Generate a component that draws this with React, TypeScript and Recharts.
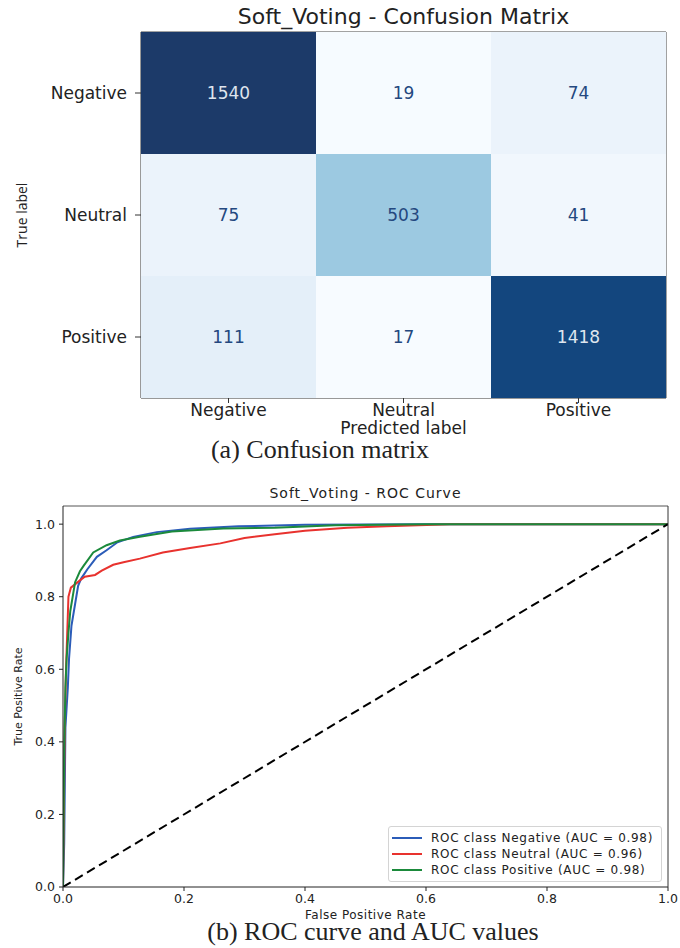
import React from 'react';
import { Label, Legend, Line, LineChart, Scatter, ScatterChart, XAxis, YAxis } from 'recharts';

const classNames = ['Negative', 'Neutral', 'Positive'];

// confusion matrix rows = true label, columns = predicted label
const negativeRow = [1540, 19, 74];
const neutralRow = [75, 503, 41];
const positiveRow = [111, 17, 1418];

const aucScores = [0.98, 0.96, 0.98];
const rocTicks = [0, 0.2, 0.4, 0.6, 0.8, 1.0];

const negativeRoc = [
  { fpr: 0, tpr: 0 }, { fpr: 0.002, tpr: 0.12 }, { fpr: 0.004, tpr: 0.44 }, { fpr: 0.008, tpr: 0.55 },
  { fpr: 0.01, tpr: 0.63 }, { fpr: 0.014, tpr: 0.72 }, { fpr: 0.02, tpr: 0.78 }, { fpr: 0.025, tpr: 0.83 },
  { fpr: 0.03, tpr: 0.85 }, { fpr: 0.04, tpr: 0.875 }, { fpr: 0.056, tpr: 0.91 }, { fpr: 0.072, tpr: 0.928 },
  { fpr: 0.09, tpr: 0.95 }, { fpr: 0.116, tpr: 0.965 }, { fpr: 0.155, tpr: 0.978 }, { fpr: 0.21, tpr: 0.987 },
  { fpr: 0.29, tpr: 0.994 }, { fpr: 0.4, tpr: 0.998 }, { fpr: 0.6, tpr: 1.0 }, { fpr: 1, tpr: 1 },
];

const neutralRoc = [
  { fpr: 0, tpr: 0 }, { fpr: 0.003, tpr: 0.45 }, { fpr: 0.005, tpr: 0.6 }, { fpr: 0.007, tpr: 0.7 },
  { fpr: 0.009, tpr: 0.8 }, { fpr: 0.013, tpr: 0.825 }, { fpr: 0.028, tpr: 0.845 }, { fpr: 0.036, tpr: 0.855 },
  { fpr: 0.053, tpr: 0.86 }, { fpr: 0.064, tpr: 0.872 }, { fpr: 0.083, tpr: 0.888 }, { fpr: 0.1, tpr: 0.895 },
  { fpr: 0.127, tpr: 0.905 }, { fpr: 0.165, tpr: 0.922 }, { fpr: 0.21, tpr: 0.934 }, { fpr: 0.26, tpr: 0.947 },
  { fpr: 0.3, tpr: 0.962 }, { fpr: 0.35, tpr: 0.972 }, { fpr: 0.4, tpr: 0.982 }, { fpr: 0.47, tpr: 0.99 },
  { fpr: 0.535, tpr: 0.994 }, { fpr: 0.64, tpr: 1.0 }, { fpr: 1, tpr: 1 },
];

const positiveRoc = [
  { fpr: 0, tpr: 0 }, { fpr: 0.002, tpr: 0.38 }, { fpr: 0.004, tpr: 0.55 }, { fpr: 0.006, tpr: 0.63 },
  { fpr: 0.009, tpr: 0.7 }, { fpr: 0.012, tpr: 0.76 }, { fpr: 0.02, tpr: 0.84 }, { fpr: 0.028, tpr: 0.87 },
  { fpr: 0.034, tpr: 0.885 }, { fpr: 0.05, tpr: 0.922 }, { fpr: 0.072, tpr: 0.942 }, { fpr: 0.094, tpr: 0.955 },
  { fpr: 0.127, tpr: 0.965 }, { fpr: 0.18, tpr: 0.98 }, { fpr: 0.265, tpr: 0.988 }, { fpr: 0.35, tpr: 0.99 },
  { fpr: 0.45, tpr: 0.997 }, { fpr: 0.6, tpr: 1.0 }, { fpr: 1, tpr: 1 },
];

const chanceLine = [{ fpr: 0, tpr: 0 }, { fpr: 1, tpr: 1 }];

const rocSeries = [
  { name: classNames[0], auc: aucScores[0], data: negativeRoc, color: '#2b5cb8' },
  { name: classNames[1], auc: aucScores[1], data: neutralRoc, color: '#e8322e' },
  { name: classNames[2], auc: aucScores[2], data: positiveRoc, color: '#1b8a3b' },
];

const SANS = '"DejaVu Sans", sans-serif';
const SERIF = '"Liberation Serif", "Times New Roman", serif';

// matplotlib "Blues", last stop toned down a bit to match the scan
const BLUES = ['#f7fbff', '#deebf7', '#c6dbef', '#9ecae1', '#6baed6', '#4292c6', '#2171b5', '#0b4f8f', '#1c3a69'];

const hexToRgb = (h: string) => [1, 3, 5].map(i => parseInt(h.slice(i, i + 2), 16));

const blues = (t: number) => {
  const p = Math.max(0, Math.min(1, t)) * (BLUES.length - 1);
  const i = Math.min(BLUES.length - 2, Math.floor(p));
  const f = p - i;
  const a = hexToRgb(BLUES[i]);
  const b = hexToRgb(BLUES[i + 1]);
  const c = a.map((v, k) => Math.round(v + (b[k] - v) * f));
  return `rgb(${c[0]},${c[1]},${c[2]})`;
};

const matrix = [negativeRow, neutralRow, positiveRow];
const allCounts = matrix.flat();
const minCount = Math.min(...allCounts);
const maxCount = Math.max(...allCounts);
const cellData = matrix.flatMap((row, r) => row.map((count, c) => ({ col: c, row: r, count })));

const CM_W = 680;
const CM_H = 470;
const CM_MARGIN = { top: 31, right: 13, bottom: 0, left: 21 };
const CM_YAXIS_W = 120;
const CM_XAXIS_H = 72;
const cellW = (CM_W - CM_MARGIN.left - CM_MARGIN.right - CM_YAXIS_W - 1) / 3;
const cellH = (CM_H - CM_MARGIN.top - CM_MARGIN.bottom - CM_XAXIS_H - 1) / 3;

const HeatCell = (props: any) => {
  const { cx, cy, payload } = props;
  const t = Math.pow((payload.count - minCount) / (maxCount - minCount), 0.85);
  const dark = payload.count > (minCount + maxCount) / 2;
  return (
    <g>
      <rect x={cx - cellW / 2} y={cy - cellH / 2} width={cellW} height={cellH} fill={blues(t)} />
      <text
        x={cx}
        y={cy}
        textAnchor="middle"
        dominantBaseline="central"
        fontFamily={SANS}
        fontSize={17}
        fill={dark ? '#dfe5ee' : '#24487f'}
      >
        {payload.count}
      </text>
    </g>
  );
};

const XTitle = ({ viewBox, value, dy, fontSize, letterSpacing }: any) => (
  <text
    x={viewBox.x + viewBox.width / 2}
    y={viewBox.y + dy}
    textAnchor="middle"
    fontFamily={SANS}
    fontSize={fontSize}
    letterSpacing={letterSpacing}
    fill="#222"
  >
    {value}
  </text>
);

const YTitle = ({ viewBox, value, dx, fontSize, fontFamily }: any) => {
  const x = viewBox.x + dx;
  const y = viewBox.y + viewBox.height / 2;
  return (
    <text
      x={x}
      y={y}
      transform={`rotate(-90 ${x} ${y})`}
      textAnchor="middle"
      dominantBaseline="central"
      fontFamily={fontFamily}
      fontSize={fontSize}
      fill="#222"
    >
      {value}
    </text>
  );
};

const RocLegend = ({ payload }: any) => (
  <div
    style={{
      border: '1px solid #d4d4d4',
      borderRadius: 3,
      background: '#fff',
      padding: '3px 6px 3px 3px',
      fontFamily: SANS,
      fontSize: 12,
      letterSpacing: 0.7,
      color: '#222',
    }}
  >
    {(payload || [])
      .filter((p: any) => p.type !== 'none')
      .map((p: any) => (
        <div key={p.value} style={{ display: 'flex', alignItems: 'center', height: 16, whiteSpace: 'nowrap' }}>
          <span style={{ display: 'inline-block', width: 30, height: 2, background: p.color, marginRight: 9 }} />
          {p.value}
        </div>
      ))}
  </div>
);

const axisTick = (size: number) => ({ fontSize: size, fill: '#222', fontFamily: SANS });

export default function App() {
  return (
    <div style={{ position: 'absolute', left: 0, top: 0, width: 680, height: 948, background: '#fff' }}>
      <div
        style={{
          position: 'absolute', left: 141, width: 525, top: 4, lineHeight: '26px', textAlign: 'center',
          fontFamily: SANS, fontSize: 22, color: '#222',
        }}
      >
        Soft_Voting - Confusion Matrix
      </div>
      <div style={{ position: 'absolute', left: 0, top: 0 }}>
        <ScatterChart width={CM_W} height={CM_H} margin={CM_MARGIN}>
          <XAxis
            xAxisId={0}
            type="number"
            dataKey="col"
            domain={[-0.5, 2.5]}
            ticks={[0, 1, 2]}
            tickFormatter={(v: number) => classNames[v]}
            tick={axisTick(17)}
            tickSize={5}
            tickMargin={1}
            height={CM_XAXIS_H}
            stroke="#333"
            interval={0}
          >
            <Label content={<XTitle value="Predicted label" dy={36} fontSize={17} />} />
          </XAxis>
          <XAxis xAxisId="top" orientation="top" type="number" domain={[-0.5, 2.5]} tick={false} tickLine={false} height={1} stroke="#444" />
          <YAxis
            yAxisId={0}
            type="number"
            dataKey="row"
            domain={[-0.5, 2.5]}
            reversed
            ticks={[0, 1, 2]}
            tickFormatter={(v: number) => classNames[v]}
            tick={axisTick(17)}
            tickSize={6}
            tickMargin={8}
            width={CM_YAXIS_W}
            stroke="#333"
            interval={0}
          >
            <Label content={<YTitle value="True label" dx={0} fontSize={14} fontFamily='"Open Sans", sans-serif' />} />
          </YAxis>
          <YAxis yAxisId="right" orientation="right" type="number" domain={[-0.5, 2.5]} tick={false} tickLine={false} width={1} stroke="#444" />
          <Scatter data={cellData} xAxisId={0} yAxisId={0} shape={(p: any) => <HeatCell {...p} />} isAnimationActive={false} />
        </ScatterChart>
      </div>
      <div
        style={{
          position: 'absolute', left: 190, width: 260, top: 435, lineHeight: '30px', textAlign: 'center',
          fontFamily: SERIF, fontSize: 26, color: '#222',
        }}
      >
        (a) Confusion matrix
      </div>

      <div
        style={{
          position: 'absolute', left: 63, width: 605, top: 484, lineHeight: '18px', textAlign: 'center',
          fontFamily: SANS, fontSize: 14, letterSpacing: 1, color: '#222',
        }}
      >
        Soft_Voting - ROC Curve
      </div>
      <div style={{ position: 'absolute', left: 0, top: 470 }}>
        <LineChart width={680} height={478} margin={{ top: 35, right: 11, bottom: 0, left: 13 }}>
          <XAxis
            xAxisId={0}
            type="number"
            dataKey="fpr"
            domain={[0, 1]}
            ticks={rocTicks}
            tickFormatter={(v: number) => v.toFixed(1)}
            tick={axisTick(12.5)}
            tickSize={4}
            tickMargin={3}
            height={61}
            stroke="#222"
            allowDataOverflow
          >
            <Label content={<XTitle value="False Positive Rate" dy={32} fontSize={12} letterSpacing={0.5} />} />
          </XAxis>
          <XAxis xAxisId="top" orientation="top" type="number" domain={[0, 1]} tick={false} tickLine={false} height={1} stroke="#555" />
          <YAxis
            yAxisId={0}
            type="number"
            domain={[0, 1.05]}
            ticks={rocTicks}
            tickFormatter={(v: number) => v.toFixed(1)}
            tick={axisTick(12.5)}
            tickSize={4}
            tickMargin={4}
            width={50}
            stroke="#222"
            allowDataOverflow
          >
            <Label content={<YTitle value="True Positive Rate" dx={5} fontSize={11} fontFamily={SANS} />} />
          </YAxis>
          <YAxis yAxisId="right" orientation="right" type="number" domain={[0, 1.05]} tick={false} tickLine={false} width={1} stroke="#333" />
          {rocSeries.map(s => (
            <Line
              key={s.name}
              data={s.data}
              dataKey="tpr"
              xAxisId={0}
              yAxisId={0}
              name={`ROC class ${s.name} (AUC = ${s.auc.toFixed(2)})`}
              stroke={s.color}
              strokeWidth={2}
              dot={false}
              type="linear"
              isAnimationActive={false}
            />
          ))}
          <Line
            data={chanceLine}
            dataKey="tpr"
            xAxisId={0}
            yAxisId={0}
            stroke="#000"
            strokeWidth={2}
            strokeDasharray="9 5"
            dot={false}
            legendType="none"
            isAnimationActive={false}
          />
          <Legend
            content={<RocLegend />}
            layout="horizontal"
            align="center"
            verticalAlign="middle"
            wrapperStyle={{ left: 388, top: 356, width: 274, bottom: 'auto' }}
          />
        </LineChart>
      </div>
      <div
        style={{
          position: 'absolute', left: 170, width: 406, top: 917, lineHeight: '30px', textAlign: 'center',
          fontFamily: SERIF, fontSize: 26, color: '#222',
        }}
      >
        (b) ROC curve and AUC values
      </div>
    </div>
  );
}
